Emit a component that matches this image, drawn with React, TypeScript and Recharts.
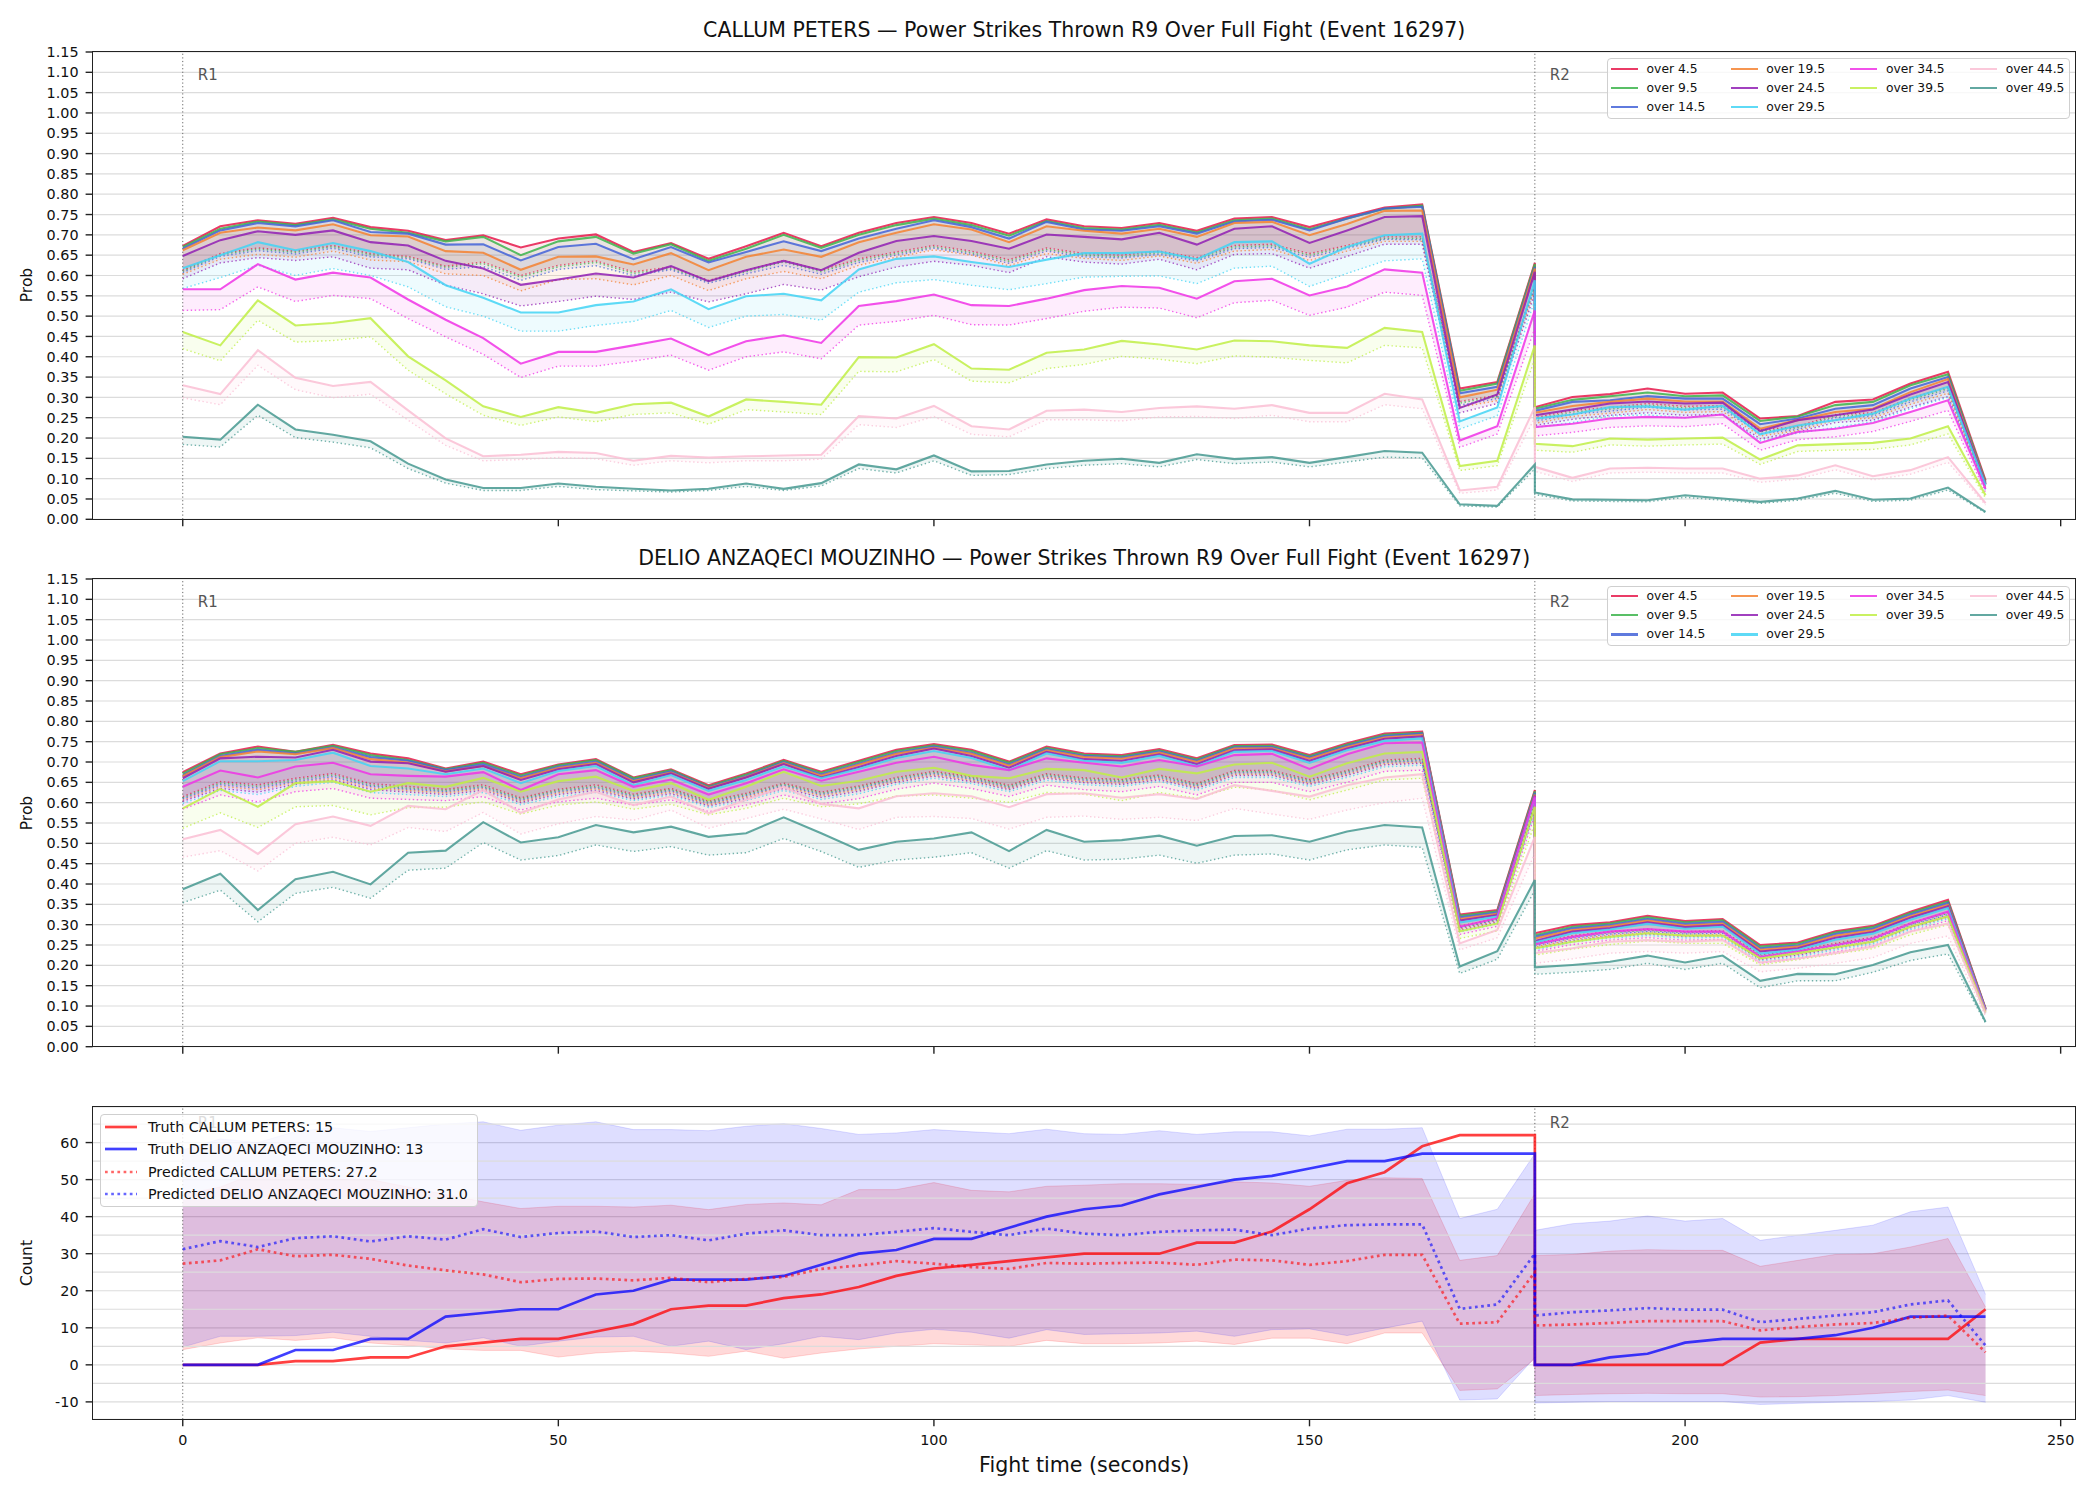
import React from 'react';
import { ComposedChart, Line, Area, XAxis, YAxis, CartesianGrid, ReferenceLine } from 'recharts';

// fight time (s): round 1 samples, then round 2 restarts at 180
const X_SEC = [
  0, 5, 10, 15, 20, 25, 30, 35, 40, 45, 50, 55, 60, 65, 70, 75, 80, 85, 90, 95,
  100, 105, 110, 115, 120, 125, 130, 135, 140, 145, 150, 155, 160, 165, 170, 175, 180,
  180, 185, 190, 195, 200, 205, 210, 215, 220, 225, 230, 235, 240,
];
const X_TICKS = [0, 50, 100, 150, 200, 250];
const PROB_TICKS = [0, 0.05, 0.1, 0.15, 0.2, 0.25, 0.3, 0.35, 0.4, 0.45, 0.5, 0.55, 0.6, 0.65, 0.7, 0.75, 0.8, 0.85, 0.9, 0.95, 1.0, 1.05, 1.1, 1.15];
const COUNT_TICKS = [-10, 0, 10, 20, 30, 40, 50, 60];
const COUNT_MINOR = [-5, 5, 15, 25, 35, 45, 55, 65];

const THRESHOLDS = ['over 4.5', 'over 9.5', 'over 14.5', 'over 19.5', 'over 24.5', 'over 29.5', 'over 34.5', 'over 39.5', 'over 44.5', 'over 49.5'];
const COLORS = ['#e6194B', '#3cb44b', '#4363d8', '#f58231', '#911eb4', '#42d4f4', '#f032e6', '#bfef45', '#fabed4', '#469990'];

// ---- CALLUM PETERS: solid = prob, lo = dotted lower line
const cp45 = [.673, .721, .736, .727, .742, .719, .710, .687, .699, .669, .691, .701, .658, .680, .641, .672, .705, .672, .705, .729, .744, .729, .703, .738, .721, .717, .729, .710, .740, .744, .719, .744, .767, .775, .322, .338, .631, .276, .301, .308, .322, .309, .312, .248, .254, .289, .295, .334, .363, .096];
const cp95 = [.670, .715, .733, .724, .738, .715, .705, .684, .695, .650, .684, .695, .654, .677, .636, .666, .700, .668, .700, .724, .740, .724, .698, .734, .717, .713, .725, .706, .736, .740, .714, .740, .764, .772, .316, .334, .628, .272, .294, .303, .312, .303, .305, .242, .253, .281, .289, .330, .357, .092];
const cp145 = [.666, .711, .729, .721, .736, .707, .703, .676, .677, .637, .670, .678, .640, .670, .632, .658, .684, .660, .691, .715, .736, .719, .691, .732, .713, .710, .721, .703, .733, .737, .711, .740, .765, .769, .310, .326, .621, .267, .289, .293, .303, .297, .297, .234, .248, .272, .281, .322, .350, .088];
const cp195 = [.662, .705, .718, .711, .726, .699, .696, .660, .656, .614, .646, .647, .627, .655, .613, .646, .664, .646, .682, .705, .726, .713, .682, .721, .710, .703, .715, .695, .729, .732, .699, .727, .759, .760, .300, .319, .617, .262, .279, .289, .297, .290, .290, .223, .244, .264, .272, .313, .345, .087];
const cp245 = [.648, .687, .709, .700, .711, .682, .674, .636, .617, .577, .590, .605, .595, .623, .586, .613, .636, .613, .656, .685, .697, .685, .666, .701, .695, .689, .705, .676, .715, .721, .680, .711, .744, .746, .274, .307, .609, .256, .270, .285, .290, .285, .287, .217, .244, .256, .270, .307, .338, .086];
const cp295 = [.618, .650, .682, .662, .680, .660, .633, .576, .545, .509, .509, .527, .536, .566, .517, .549, .555, .539, .615, .641, .647, .633, .621, .639, .655, .655, .659, .640, .682, .684, .629, .670, .699, .703, .241, .275, .588, .248, .258, .276, .278, .270, .279, .209, .231, .244, .260, .297, .326, .084];
const cp345 = [.566, .566, .628, .590, .607, .595, .541, .491, .446, .383, .412, .412, .428, .445, .404, .438, .453, .434, .525, .537, .553, .527, .525, .543, .564, .574, .570, .543, .586, .592, .551, .573, .615, .607, .194, .229, .514, .227, .235, .248, .252, .250, .258, .188, .215, .223, .237, .264, .293, .075];
const cp395 = [.461, .428, .539, .477, .483, .495, .401, .342, .278, .252, .276, .262, .283, .287, .253, .295, .289, .282, .399, .398, .431, .371, .368, .410, .418, .439, .430, .418, .440, .438, .428, .422, .471, .461, .131, .144, .428, .186, .180, .199, .196, .199, .201, .147, .182, .185, .188, .199, .229, .059];
const cp445 = [.330, .308, .416, .348, .328, .338, .268, .199, .155, .159, .166, .163, .144, .156, .152, .155, .157, .159, .254, .248, .279, .229, .221, .267, .270, .264, .274, .278, .272, .281, .262, .262, .309, .295, .071, .080, .276, .129, .102, .125, .127, .125, .125, .100, .108, .133, .106, .121, .153, .040];
const cp495 = [.203, .196, .282, .221, .208, .192, .137, .098, .077, .077, .088, .080, .075, .071, .075, .088, .075, .089, .135, .123, .157, .118, .119, .135, .144, .149, .139, .160, .148, .153, .139, .153, .168, .164, .037, .033, .135, .066, .049, .048, .047, .059, .051, .043, .051, .070, .048, .051, .078, .018];

const cp45Lo = [.613, .654, .668, .660, .674, .654, .647, .623, .633, .600, .625, .636, .609, .621, .588, .613, .637, .613, .641, .658, .674, .660, .639, .668, .654, .650, .660, .644, .674, .677, .654, .674, .695, .695, .290, .305, .580, .250, .268, .275, .285, .278, .280, .220, .228, .258, .262, .298, .325, .085];
const cp95Lo = [.610, .651, .665, .657, .671, .651, .644, .620, .629, .596, .621, .632, .605, .617, .585, .609, .633, .609, .637, .654, .670, .656, .635, .664, .650, .646, .656, .640, .670, .673, .650, .670, .691, .691, .286, .302, .576, .246, .264, .271, .281, .274, .276, .216, .225, .254, .258, .294, .321, .082];
const cp145Lo = [.607, .647, .661, .653, .667, .646, .641, .615, .622, .588, .615, .624, .600, .614, .581, .604, .625, .603, .632, .650, .667, .652, .630, .660, .646, .643, .652, .636, .666, .669, .645, .667, .689, .688, .281, .297, .570, .241, .259, .266, .276, .269, .271, .211, .221, .250, .254, .289, .316, .079];
const cp195Lo = [.603, .640, .652, .645, .660, .638, .634, .604, .600, .562, .590, .592, .577, .600, .563, .592, .610, .592, .625, .645, .663, .650, .624, .654, .642, .637, .648, .630, .660, .664, .637, .660, .684, .684, .276, .292, .565, .236, .253, .261, .270, .263, .265, .205, .218, .244, .249, .283, .310, .077];
const cp245Lo = [.592, .631, .644, .637, .646, .618, .614, .576, .555, .525, .536, .549, .541, .559, .535, .555, .578, .564, .597, .621, .635, .625, .607, .646, .633, .628, .640, .614, .652, .654, .618, .647, .677, .677, .262, .285, .555, .231, .246, .256, .262, .256, .258, .198, .215, .238, .244, .276, .302, .075];
const cp295Lo = [.568, .595, .625, .600, .617, .600, .572, .523, .500, .463, .463, .477, .487, .514, .472, .500, .504, .490, .559, .582, .590, .576, .565, .580, .596, .598, .599, .580, .618, .623, .573, .605, .636, .641, .222, .255, .540, .226, .238, .254, .257, .250, .258, .193, .212, .226, .240, .272, .300, .072];
const cp345Lo = [.514, .516, .572, .536, .551, .543, .494, .449, .406, .349, .377, .377, .389, .404, .367, .400, .412, .395, .478, .487, .502, .479, .478, .494, .512, .522, .520, .496, .533, .539, .502, .522, .559, .551, .177, .210, .470, .205, .214, .226, .230, .228, .235, .170, .196, .203, .216, .241, .268, .066];
const cp395Lo = [.420, .390, .490, .436, .440, .449, .367, .309, .256, .231, .252, .240, .258, .262, .234, .270, .264, .258, .364, .363, .393, .340, .336, .371, .381, .401, .394, .383, .402, .399, .391, .385, .428, .422, .120, .132, .395, .170, .165, .183, .180, .183, .185, .135, .167, .170, .172, .183, .210, .052];
const cp445Lo = [.299, .282, .379, .319, .299, .308, .244, .182, .144, .147, .152, .149, .133, .144, .139, .144, .144, .148, .233, .226, .253, .209, .203, .245, .245, .242, .252, .253, .248, .256, .240, .240, .282, .272, .064, .072, .250, .118, .093, .114, .116, .114, .114, .091, .099, .122, .097, .111, .140, .035];
const cp495Lo = [.184, .178, .256, .201, .190, .176, .125, .089, .071, .071, .081, .073, .070, .067, .071, .081, .071, .082, .125, .114, .144, .108, .110, .125, .133, .137, .129, .147, .137, .141, .129, .141, .153, .151, .033, .030, .124, .061, .045, .044, .043, .054, .047, .039, .047, .064, .044, .047, .072, .016];

// ---- DELIO ANZAQECI MOUZINHO
const dm45 = [.675, .721, .738, .725, .742, .721, .709, .684, .701, .670, .694, .707, .662, .682, .643, .672, .705, .676, .703, .730, .744, .730, .701, .738, .721, .717, .732, .709, .742, .743, .717, .746, .770, .775, .325, .336, .631, .279, .299, .306, .322, .309, .314, .250, .256, .284, .297, .332, .361, .094];
const dm95 = [.671, .719, .734, .725, .740, .717, .705, .682, .698, .667, .692, .705, .660, .680, .640, .669, .703, .673, .700, .727, .741, .727, .698, .735, .718, .714, .729, .706, .739, .740, .714, .743, .767, .772, .322, .333, .628, .274, .295, .303, .318, .306, .311, .246, .253, .281, .294, .329, .357, .093];
const dm145 = [.667, .715, .730, .721, .736, .712, .703, .680, .694, .663, .688, .701, .656, .677, .638, .665, .700, .669, .696, .723, .738, .723, .694, .732, .715, .711, .726, .703, .736, .737, .711, .740, .764, .770, .318, .330, .624, .270, .291, .299, .314, .302, .307, .242, .249, .277, .290, .325, .353, .092];
const dm195 = [.665, .712, .726, .719, .734, .707, .699, .677, .690, .660, .685, .698, .653, .674, .636, .663, .697, .666, .693, .720, .735, .720, .691, .729, .712, .708, .723, .700, .733, .734, .708, .737, .760, .767, .314, .327, .620, .266, .287, .296, .310, .298, .303, .238, .246, .273, .286, .321, .349, .092];
const dm245 = [.660, .709, .713, .711, .730, .701, .697, .676, .690, .656, .682, .695, .650, .672, .634, .662, .695, .662, .688, .715, .733, .715, .686, .725, .707, .703, .719, .695, .729, .731, .703, .733, .757, .763, .310, .324, .617, .260, .283, .292, .306, .294, .299, .234, .242, .268, .282, .317, .345, .091];
const dm295 = [.653, .702, .702, .705, .723, .690, .684, .670, .684, .648, .678, .690, .643, .668, .629, .656, .689, .660, .683, .710, .727, .710, .680, .721, .703, .698, .715, .690, .725, .727, .698, .729, .752, .758, .305, .320, .612, .256, .279, .288, .302, .290, .295, .229, .238, .263, .278, .312, .341, .090];
const dm345 = [.639, .679, .662, .689, .698, .670, .666, .664, .675, .631, .670, .680, .639, .657, .620, .648, .682, .654, .676, .698, .713, .693, .680, .709, .698, .689, .705, .689, .717, .720, .683, .719, .746, .748, .295, .316, .615, .252, .270, .283, .289, .283, .283, .221, .234, .250, .266, .303, .332, .088];
const dm395 = [.586, .634, .590, .648, .653, .627, .648, .639, .661, .627, .653, .664, .629, .648, .607, .639, .676, .641, .654, .676, .686, .666, .660, .683, .680, .662, .683, .672, .694, .698, .664, .697, .721, .725, .284, .303, .590, .242, .258, .270, .279, .273, .273, .217, .230, .244, .258, .295, .320, .085];
const dm445 = [.510, .533, .474, .547, .566, .543, .592, .584, .631, .575, .608, .627, .594, .615, .574, .607, .639, .597, .586, .616, .623, .616, .589, .621, .623, .612, .621, .609, .643, .629, .615, .643, .662, .670, .254, .287, .516, .230, .242, .258, .262, .258, .262, .207, .217, .230, .246, .283, .303, .082];
const dm495 = [.387, .425, .336, .412, .430, .399, .477, .482, .552, .502, .515, .545, .527, .541, .516, .525, .564, .525, .484, .504, .512, .527, .481, .533, .504, .508, .519, .494, .518, .520, .504, .529, .545, .539, .197, .235, .410, .195, .201, .209, .224, .207, .224, .162, .179, .178, .201, .232, .250, .061];

const dm45Lo = [.615, .652, .644, .660, .672, .647, .640, .633, .644, .612, .633, .644, .621, .635, .604, .623, .648, .626, .641, .662, .677, .664, .643, .671, .661, .657, .668, .647, .679, .679, .657, .679, .705, .709, .296, .316, .598, .254, .273, .283, .289, .283, .285, .226, .237, .254, .269, .304, .331, .088];
const dm95Lo = [.612, .648, .640, .656, .668, .643, .636, .630, .640, .609, .630, .640, .618, .632, .601, .620, .645, .623, .638, .659, .674, .661, .640, .668, .658, .654, .665, .644, .676, .676, .654, .676, .702, .706, .293, .313, .594, .251, .270, .280, .286, .280, .282, .223, .234, .251, .266, .301, .328, .087];
const dm145Lo = [.609, .644, .636, .652, .664, .640, .633, .627, .637, .606, .627, .637, .615, .629, .598, .617, .642, .620, .635, .656, .671, .658, .637, .665, .655, .651, .662, .641, .673, .673, .651, .673, .699, .703, .291, .311, .590, .248, .267, .277, .283, .277, .279, .220, .231, .248, .263, .298, .325, .086];
const dm195Lo = [.606, .640, .632, .649, .660, .636, .630, .624, .634, .603, .624, .634, .612, .626, .595, .614, .639, .617, .632, .653, .668, .655, .635, .663, .652, .648, .659, .638, .670, .670, .648, .670, .696, .700, .289, .309, .586, .245, .264, .274, .280, .274, .276, .217, .228, .245, .260, .295, .322, .085];
const dm245Lo = [.603, .635, .626, .645, .656, .632, .626, .620, .630, .600, .620, .630, .609, .622, .592, .610, .635, .613, .628, .650, .665, .652, .632, .660, .649, .645, .656, .635, .667, .667, .645, .667, .693, .697, .286, .306, .582, .242, .261, .271, .277, .271, .273, .214, .225, .242, .257, .292, .319, .084];
const dm295Lo = [.598, .630, .620, .640, .650, .625, .620, .615, .625, .595, .615, .625, .605, .618, .588, .605, .630, .608, .622, .645, .660, .647, .627, .655, .644, .640, .652, .630, .662, .662, .640, .662, .688, .692, .282, .302, .578, .238, .257, .267, .273, .267, .269, .210, .221, .238, .253, .288, .315, .083];
const dm345Lo = [.584, .619, .602, .627, .635, .611, .608, .605, .615, .582, .602, .611, .594, .607, .578, .594, .619, .597, .610, .633, .648, .635, .615, .643, .632, .627, .640, .619, .650, .650, .627, .650, .677, .680, .276, .296, .570, .234, .251, .262, .268, .262, .264, .205, .217, .233, .248, .283, .310, .082];
const dm395Lo = [.537, .575, .539, .590, .593, .570, .588, .589, .602, .572, .594, .602, .584, .596, .570, .586, .611, .590, .597, .616, .619, .611, .601, .625, .621, .605, .625, .611, .638, .631, .607, .631, .656, .660, .266, .285, .550, .225, .240, .251, .260, .254, .254, .201, .214, .228, .241, .275, .300, .080];
const dm445Lo = [.466, .482, .432, .500, .515, .496, .539, .529, .576, .523, .548, .566, .557, .582, .537, .561, .584, .560, .534, .564, .566, .561, .535, .564, .567, .559, .564, .556, .586, .572, .559, .582, .600, .611, .238, .268, .475, .205, .216, .230, .234, .230, .234, .184, .193, .205, .219, .254, .272, .075];
const dm495Lo = [.354, .385, .307, .377, .392, .365, .434, .439, .502, .459, .470, .496, .480, .492, .471, .477, .512, .480, .441, .459, .466, .477, .439, .482, .459, .461, .471, .451, .471, .474, .459, .484, .496, .490, .180, .215, .385, .178, .183, .190, .205, .190, .205, .145, .162, .162, .183, .212, .228, .058];

const CP_PROB = [cp45, cp95, cp145, cp195, cp245, cp295, cp345, cp395, cp445, cp495];
const CP_LOW = [cp45Lo, cp95Lo, cp145Lo, cp195Lo, cp245Lo, cp295Lo, cp345Lo, cp395Lo, cp445Lo, cp495Lo];
const DM_PROB = [dm45, dm95, dm145, dm195, dm245, dm295, dm345, dm395, dm445, dm495];
const DM_LOW = [dm45Lo, dm95Lo, dm145Lo, dm195Lo, dm245Lo, dm295Lo, dm345Lo, dm395Lo, dm445Lo, dm495Lo];

// ---- cumulative counts
const truthCp = [0, 0, 0, 1, 1, 2, 2, 5, 6, 7, 7, 9, 11, 15, 16, 16, 18, 19, 21, 24, 26, 27, 28, 29, 30, 30, 30, 33, 33, 36, 42, 49, 52, 59, 62, 62, 62, 0, 0, 0, 0, 0, 0, 6, 7, 7, 7, 7, 7, 15];
const truthDm = [0, 0, 0, 4, 4, 7, 7, 13, 14, 15, 15, 19, 20, 23, 23, 23, 24, 27, 30, 31, 34, 34, 37, 40, 42, 43, 46, 48, 50, 51, 53, 55, 55, 57, 57, 57, 57, 0, 0, 2, 3, 6, 7, 7, 7, 8, 10, 13, 13, 13];
const predCp = [27.3, 28.2, 31.2, 29.3, 29.7, 28.6, 26.8, 25.5, 24.4, 22.3, 23.2, 23.3, 22.8, 23.5, 22.3, 23.2, 23.7, 25.9, 26.8, 28.0, 27.3, 26.4, 25.9, 27.5, 27.3, 27.5, 27.6, 27.0, 28.4, 28.2, 27.0, 28.0, 29.7, 29.7, 11.1, 11.5, 25.0, 10.6, 10.9, 11.3, 11.8, 11.8, 11.8, 9.3, 10.2, 10.9, 11.3, 12.7, 13.3, 3.4];
const predDm = [31.2, 33.4, 31.8, 34.2, 34.7, 33.3, 34.7, 33.8, 36.6, 34.5, 35.6, 36.0, 34.5, 35.0, 33.6, 35.4, 36.3, 35.0, 35.0, 35.9, 36.9, 35.9, 35.0, 36.8, 35.4, 35.0, 35.9, 36.3, 36.5, 35.0, 36.8, 37.7, 37.9, 37.9, 15.1, 16.3, 30.0, 13.3, 14.2, 14.7, 15.3, 14.9, 14.9, 11.5, 12.4, 13.3, 14.2, 16.3, 17.4, 5.2];
const cpHi = [46, 48, 52, 51, 50, 50, 48, 46, 44, 42.2, 42.8, 42.8, 42.6, 43.1, 41.9, 43.3, 43.7, 43.2, 47.3, 47.3, 49.2, 47.1, 46.7, 48.2, 48.5, 48.9, 48.9, 48.7, 49.4, 49.1, 48.2, 49.8, 50.5, 50.3, 28.2, 29.5, 46.2, 29.5, 29.8, 30.7, 31.1, 30.9, 30.9, 26.6, 28.2, 29.8, 30.0, 31.8, 34.1, 15.6];
const cpLo = [4.1, 5.9, 7.3, 6.6, 7.3, 5.9, 5.2, 4.3, 3.9, 3.9, 2.1, 3.2, 3.7, 3.2, 2.3, 3.7, 1.8, 3.2, 4.3, 5.0, 5.7, 5.4, 5.0, 6.6, 5.7, 5.7, 5.9, 6.4, 5.5, 7.2, 7.2, 5.7, 8.6, 8.6, -6.9, -6.5, 1.6, -8.3, -8.0, -7.8, -7.7, -7.8, -7.8, -8.7, -8.6, -8.3, -7.8, -7.2, -6.8, -8.3];
const dmHi = [58, 61, 60, 63, 64, 63, 64, 65, 65.6, 63.3, 64.7, 65.6, 63.5, 63.5, 63.2, 64.4, 65.1, 63.8, 62.2, 62.6, 63.5, 62.9, 62.4, 63.6, 62.4, 62.2, 63.2, 62.2, 62.9, 62.9, 61.8, 63.6, 63.6, 64.0, 39.5, 42.0, 57.0, 36.3, 38.1, 38.8, 40.2, 38.8, 39.5, 33.6, 35.0, 36.3, 37.7, 41.3, 42.6, 19.0];
const dmLo = [4.8, 7.7, 7.7, 7.9, 8.8, 7.7, 6.6, 5.9, 7.3, 5.0, 6.4, 7.5, 7.7, 5.0, 6.4, 4.1, 5.7, 7.7, 6.8, 8.6, 9.6, 8.8, 7.2, 9.5, 8.2, 8.4, 8.6, 9.1, 7.7, 9.5, 9.7, 7.9, 9.9, 11.8, -9.5, -9.2, 2.0, -10.3, -10.1, -9.9, -9.9, -9.9, -9.9, -10.7, -10.4, -10.1, -9.9, -9.5, -8.3, -10.1];

const FONT = 'DejaVu Sans, sans-serif';
const W = 2100;
const PLOT_L = 92.6;
const PLOT_R = 2075.7;
const AXIS_H = 50;
const GRID = '#dcdcdc';

function RoundLabel(props: any) {
  const vb = props.viewBox || {};
  return (
    <text x={vb.x + 15} y={vb.y + vb.height * 0.05} dominantBaseline="central" fontSize={15} fill="#555" fontFamily={FONT}>
      {props.text}
    </text>
  );
}

function Frame({ top, bottom }: { top: number; bottom: number }) {
  return (
    <div style={{
      position: 'absolute', left: PLOT_L - 0.8, top: top - 0.8, width: PLOT_R - PLOT_L + 1.6, height: bottom - top + 1.6,
      border: '1.6px solid #222', boxSizing: 'border-box', pointerEvents: 'none',
    }} />
  );
}

function Title({ text, cy }: { text: string; cy: number }) {
  return (
    <div style={{ position: 'absolute', left: PLOT_L, width: PLOT_R - PLOT_L, top: cy - 15, height: 30, lineHeight: '30px', textAlign: 'center', fontSize: 20.5, color: '#111' }}>
      {text}
    </div>
  );
}

function YLabel({ text, cy }: { text: string; cy: number }) {
  return (
    <div style={{ position: 'absolute', left: 27 - 60, top: cy - 12, width: 120, height: 24, lineHeight: '24px', textAlign: 'center', fontSize: 15.5, color: '#111', transform: 'rotate(-90deg)' }}>
      {text}
    </div>
  );
}

function ProbLegend({ top }: { top: number }) {
  const cols = [[0, 1, 2], [3, 4, 5], [6, 7], [8, 9]];
  return (
    <div style={{ position: 'absolute', left: 1606.6, top, width: 463.3, height: 60.7, border: '1px solid #cfcfcf', borderRadius: 4, background: 'rgba(255,255,255,0.8)', boxSizing: 'border-box' }}>
      {cols.map((col, ci) => col.map((k, ri) => (
        <div key={k} style={{ position: 'absolute', left: 3.5 + ci * 119.7, top: 9.5 + ri * 19.2 - 8, height: 16, display: 'flex', alignItems: 'center' }}>
          <div style={{ width: 27, height: 2.2, background: COLORS[k], opacity: 0.85 }} />
          <span style={{ marginLeft: 8.5, fontSize: 12.3, color: '#111', whiteSpace: 'nowrap' }}>{THRESHOLDS[k]}</span>
        </div>
      )))}
    </div>
  );
}

function ProbPanel({ probs, lows, top, bottom }: { probs: number[][]; lows: number[][]; top: number; bottom: number }) {
  const data = X_SEC.map((t, i) => {
    const row: any = { t };
    probs.forEach((p, k) => {
      row['s' + k] = p[i];
      row['l' + k] = lows[k][i];
      row['b' + k] = [lows[k][i], p[i]];
    });
    return row;
  });
  const h = bottom - top;
  return (
    <div style={{ position: 'absolute', left: 0, top: top - 10 }}>
      <ComposedChart width={W} height={h + 10 + AXIS_H} data={data} margin={{ top: 10, right: W - PLOT_R, bottom: 0, left: 0 }}>
        <CartesianGrid vertical={false} stroke={GRID} strokeWidth={1.2} />
        <XAxis dataKey="t" type="number" domain={[-12, 252]} ticks={X_TICKS} allowDataOverflow height={AXIS_H}
          axisLine={false} tickSize={7} tickLine={{ stroke: '#222', strokeWidth: 1.4 }} tickFormatter={() => ''} />
        <YAxis type="number" domain={[0, 1.15]} ticks={PROB_TICKS} interval={0} allowDataOverflow width={PLOT_L}
          axisLine={false} tickSize={7} tickMargin={7} tickLine={{ stroke: '#222', strokeWidth: 1.4 }}
          tick={{ fontSize: 14.4, fill: '#111' }} tickFormatter={(v: number) => v.toFixed(2)} />
        {probs.map((_, k) => (
          <Area key={'b' + k} dataKey={'b' + k} type="linear" stroke="none" fill={COLORS[k]} fillOpacity={0.09}
            isAnimationActive={false} dot={false} activeDot={false} />
        ))}
        <ReferenceLine x={0} stroke="#666" strokeWidth={1} strokeDasharray="1.2 2.4" label={<RoundLabel text="R1" />} />
        <ReferenceLine x={180} stroke="#666" strokeWidth={1} strokeDasharray="1.2 2.4" label={<RoundLabel text="R2" />} />
        {probs.map((_, k) => [
          <Line key={'s' + k} dataKey={'s' + k} type="linear" stroke={COLORS[k]} strokeOpacity={0.85} strokeWidth={2.1}
            dot={false} activeDot={false} isAnimationActive={false} />,
          <Line key={'l' + k} dataKey={'l' + k} type="linear" stroke={COLORS[k]} strokeOpacity={0.75} strokeWidth={1.4}
            strokeDasharray="1.4 2.6" dot={false} activeDot={false} isAnimationActive={false} />,
        ])}
      </ComposedChart>
    </div>
  );
}

function CountLegend() {
  const rows = [
    { label: 'Truth CALLUM PETERS: 15', color: '#ff0000', dash: '' },
    { label: 'Truth DELIO ANZAQECI MOUZINHO: 13', color: '#0000ff', dash: '' },
    { label: 'Predicted CALLUM PETERS: 27.2', color: '#ff0000', dash: '2.7 3.5' },
    { label: 'Predicted DELIO ANZAQECI MOUZINHO: 31.0', color: '#0000ff', dash: '2.7 3.5' },
  ];
  return (
    <div style={{ position: 'absolute', left: 100, top: 1114, width: 378, height: 93.3, border: '1px solid #cfcfcf', borderRadius: 4, background: 'rgba(255,255,255,0.8)', boxSizing: 'border-box' }}>
      {rows.map((r, i) => (
        <div key={i} style={{ position: 'absolute', left: 4, top: 11.5 + i * 22.5 - 9, height: 18, display: 'flex', alignItems: 'center' }}>
          <svg width={32} height={6}>
            <line x1={0} y1={3} x2={32} y2={3} stroke={r.color} strokeOpacity={r.dash ? 0.6 : 0.75} strokeWidth={2.7} strokeDasharray={r.dash || undefined} />
          </svg>
          <span style={{ marginLeft: 11, fontSize: 14.3, color: '#111', whiteSpace: 'nowrap' }}>{r.label}</span>
        </div>
      ))}
    </div>
  );
}

function CountPanel({ top, bottom }: { top: number; bottom: number }) {
  const data = X_SEC.map((t, i) => ({
    t,
    tc: truthCp[i], td: truthDm[i], pc: predCp[i], pd: predDm[i],
    bc: [cpLo[i], cpHi[i]], bd: [dmLo[i], dmHi[i]],
  }));
  const h = bottom - top;
  return (
    <div style={{ position: 'absolute', left: 0, top: top - 10 }}>
      <ComposedChart width={W} height={h + 10 + AXIS_H} data={data} margin={{ top: 10, right: W - PLOT_R, bottom: 0, left: 0 }}>
        <CartesianGrid vertical={false} stroke={GRID} strokeWidth={1.2} />
        <XAxis dataKey="t" type="number" domain={[-12, 252]} ticks={X_TICKS} allowDataOverflow height={AXIS_H}
          axisLine={false} tickSize={7} tickMargin={8} tickLine={{ stroke: '#222', strokeWidth: 1.4 }}
          tick={{ fontSize: 14.4, fill: '#111' }} />
        <YAxis type="number" domain={[-14.7, 69.6]} ticks={COUNT_TICKS} interval={0} allowDataOverflow width={PLOT_L}
          axisLine={false} tickSize={7} tickMargin={7} tickLine={{ stroke: '#222', strokeWidth: 1.4 }}
          tick={{ fontSize: 14.4, fill: '#111' }} />
        <Area dataKey="bc" type="linear" stroke="#ff0000" strokeOpacity={0.15} fill="#ff0000" fillOpacity={0.15}
          isAnimationActive={false} dot={false} activeDot={false} />
        <Area dataKey="bd" type="linear" stroke="#0000ff" strokeOpacity={0.13} fill="#0000ff" fillOpacity={0.13}
          isAnimationActive={false} dot={false} activeDot={false} />
        {COUNT_MINOR.map((v) => (
          <ReferenceLine key={v} y={v} stroke={GRID} strokeWidth={1.2} />
        ))}
        <ReferenceLine x={0} stroke="#666" strokeWidth={1} strokeDasharray="1.2 2.4" label={<RoundLabel text="R1" />} />
        <ReferenceLine x={180} stroke="#666" strokeWidth={1} strokeDasharray="1.2 2.4" label={<RoundLabel text="R2" />} />
        <Line dataKey="tc" type="linear" stroke="#ff0000" strokeOpacity={0.75} strokeWidth={2.7} dot={false} activeDot={false} isAnimationActive={false} />
        <Line dataKey="td" type="linear" stroke="#0000ff" strokeOpacity={0.75} strokeWidth={2.7} dot={false} activeDot={false} isAnimationActive={false} />
        <Line dataKey="pc" type="linear" stroke="#ff0000" strokeOpacity={0.6} strokeWidth={2.7} strokeDasharray="2.7 3.5" dot={false} activeDot={false} isAnimationActive={false} />
        <Line dataKey="pd" type="linear" stroke="#0000ff" strokeOpacity={0.6} strokeWidth={2.7} strokeDasharray="2.7 3.5" dot={false} activeDot={false} isAnimationActive={false} />
      </ComposedChart>
    </div>
  );
}

export default function App() {
  const P1 = { top: 51.7, bottom: 519 };
  const P2 = { top: 579, bottom: 1046.7 };
  const P3 = { top: 1106.7, bottom: 1419 };
  return (
    <div style={{ position: 'absolute', left: 0, top: 0, width: W, height: 1500, background: '#fff', fontFamily: FONT, overflow: 'hidden' }}>
      <Title text="CALLUM PETERS — Power Strikes Thrown R9 Over Full Fight (Event 16297)" cy={29.5} />
      <ProbPanel probs={CP_PROB} lows={CP_LOW} top={P1.top} bottom={P1.bottom} />
      <Frame top={P1.top} bottom={P1.bottom} />
      <ProbLegend top={P1.top + 6.6} />
      <YLabel text="Prob" cy={(P1.top + P1.bottom) / 2} />

      <Title text="DELIO ANZAQECI MOUZINHO — Power Strikes Thrown R9 Over Full Fight (Event 16297)" cy={558.4} />
      <ProbPanel probs={DM_PROB} lows={DM_LOW} top={P2.top} bottom={P2.bottom} />
      <Frame top={P2.top} bottom={P2.bottom} />
      <ProbLegend top={P2.top + 6.6} />
      <YLabel text="Prob" cy={(P2.top + P2.bottom) / 2} />

      <CountPanel top={P3.top} bottom={P3.bottom} />
      <Frame top={P3.top} bottom={P3.bottom} />
      <CountLegend />
      <YLabel text="Count" cy={(P3.top + P3.bottom) / 2} />
      <div style={{ position: 'absolute', left: PLOT_L, width: PLOT_R - PLOT_L, top: 1465 - 15, height: 30, lineHeight: '30px', textAlign: 'center', fontSize: 20.6, color: '#111' }}>
        Fight time (seconds)
      </div>
    </div>
  );
}
